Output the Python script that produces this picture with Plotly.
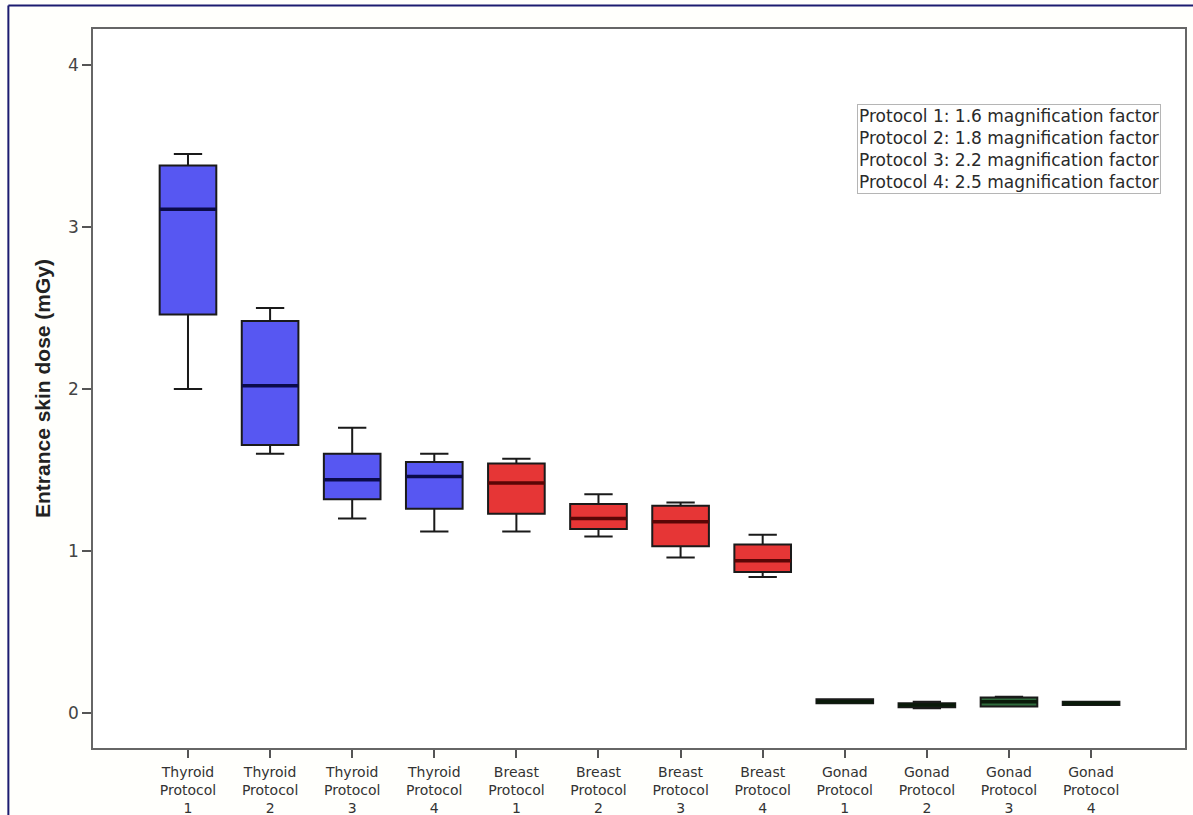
import plotly.graph_objects as go

# Entrance skin dose per examination site and magnification protocol (mGy)
categories = [
    "Thyroid<br>Protocol<br>1", "Thyroid<br>Protocol<br>2", "Thyroid<br>Protocol<br>3", "Thyroid<br>Protocol<br>4",
    "Breast<br>Protocol<br>1", "Breast<br>Protocol<br>2", "Breast<br>Protocol<br>3", "Breast<br>Protocol<br>4",
    "Gonad<br>Protocol<br>1", "Gonad<br>Protocol<br>2", "Gonad<br>Protocol<br>3", "Gonad<br>Protocol<br>4",
]
site = ["Thyroid"] * 4 + ["Breast"] * 4 + ["Gonad"] * 4

lower_whisker = [2.00, 1.60, 1.20, 1.12, 1.12, 1.09, 0.96, 0.84, 0.06, 0.03, 0.04, 0.05]
q1_values     = [2.46, 1.655, 1.32, 1.26, 1.23, 1.135, 1.03, 0.87, 0.06, 0.035, 0.04, 0.05]
median_values = [3.11, 2.02, 1.44, 1.46, 1.42, 1.20, 1.18, 0.94, 0.07, 0.05, 0.07, 0.06]
q3_values     = [3.38, 2.42, 1.60, 1.55, 1.54, 1.29, 1.28, 1.04, 0.085, 0.06, 0.095, 0.07]
upper_whisker = [3.45, 2.50, 1.76, 1.60, 1.57, 1.35, 1.30, 1.10, 0.085, 0.07, 0.10, 0.07]

y_ticks = [0, 1, 2, 3, 4]

protocol_notes = [
    "Protocol 1: 1.6 magnification factor",
    "Protocol 2: 1.8 magnification factor",
    "Protocol 3: 2.2 magnification factor",
    "Protocol 4: 2.5 magnification factor",
]

fill_colors = {"Thyroid": "#5757F2", "Breast": "#E63636", "Gonad": "#2F6B3C"}
median_colors = {"Thyroid": "#0B0B4A", "Breast": "#5A0606", "Gonad": "#0A1A0A"}

BOX_WIDTH = 0.69
positions = list(range(len(categories)))

fig = go.Figure()

for i, pos in enumerate(positions):
    fig.add_trace(go.Box(
        x=[pos],
        q1=[q1_values[i]],
        median=[median_values[i]],
        q3=[q3_values[i]],
        lowerfence=[lower_whisker[i]],
        upperfence=[upper_whisker[i]],
        width=BOX_WIDTH,
        whiskerwidth=0.5,
        fillcolor=fill_colors[site[i]],
        line=dict(color="#1a1a1a", width=2),
        boxpoints=False,
        showlegend=False,
        hoverinfo="skip",
    ))

# heavier median bars drawn on top of each box
for i, pos in enumerate(positions):
    fig.add_trace(go.Scatter(
        x=[pos - BOX_WIDTH / 2, pos + BOX_WIDTH / 2],
        y=[median_values[i], median_values[i]],
        mode="lines",
        line=dict(color=median_colors[site[i]], width=3.5),
        showlegend=False,
        hoverinfo="skip",
    ))

fig.add_annotation(
    xref="paper", yref="paper",
    x=0.978, y=0.896, xanchor="right", yanchor="top",
    text="<br>".join(protocol_notes),
    align="left", showarrow=False,
    font=dict(family="DejaVu Sans", size=17, color="#2a2a2a"),
    bgcolor="white", bordercolor="#b5b5b5", borderwidth=1, borderpad=1,
)

# dark frame along the top and left edge of the figure
frame = dict(color="#1c1c70", width=2)
fig.add_shape(type="line", xref="paper", yref="paper",
              x0=-0.0775, x1=1.01, y0=1.0327, y1=1.0327, line=frame)
fig.add_shape(type="line", xref="paper", yref="paper",
              x0=-0.0775, x1=-0.0775, y0=-0.12, y1=1.0327, line=frame)

fig.update_layout(
    width=1193, height=815,
    margin=dict(l=93, r=8, t=29, b=67),
    paper_bgcolor="#fffffc",
    plot_bgcolor="white",
    showlegend=False,
    hovermode=False,
    font=dict(family="DejaVu Sans", color="#333333"),
)

fig.update_xaxes(
    range=[-1.157, 12.144],
    automargin=False,
    tickmode="array", tickvals=positions, ticktext=categories,
    ticks="outside", ticklen=8, tickwidth=1.5, tickcolor="#555555",
    ticklabelstandoff=2,
    tickfont=dict(family="DejaVu Sans", size=14, color="#333333"),
    showline=True, linecolor="#666666", linewidth=1.5, mirror=True,
    showgrid=False, zeroline=False,
)

fig.update_yaxes(
    range=[-0.216, 4.222],
    automargin=False,
    tickmode="array", tickvals=y_ticks,
    ticks="outside", ticklen=9, tickwidth=1.5, tickcolor="#555555",
    tickfont=dict(family="DejaVu Sans", size=17, color="#444444"),
    showline=True, linecolor="#666666", linewidth=1.5, mirror=True,
    showgrid=False, zeroline=False,
    title=dict(text="Entrance skin dose (mGy)", standoff=12,
               font=dict(family="Liberation Sans", size=21, color="#222222", weight="bold")),
)

fig.write_html("out.html")
